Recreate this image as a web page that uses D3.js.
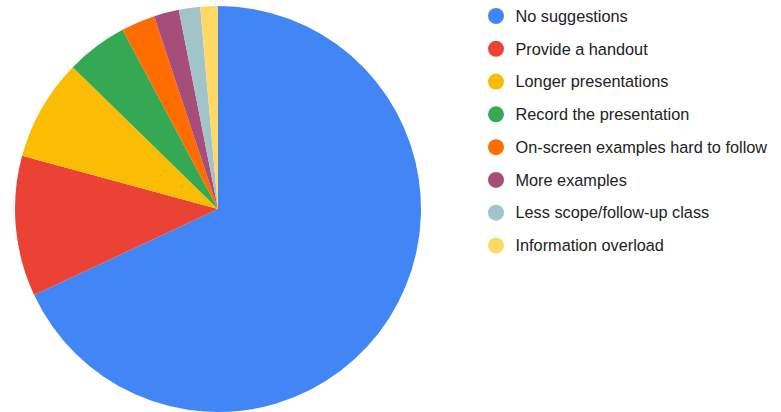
<!DOCTYPE html>
<html>
<head>
<meta charset="utf-8">
<script src="https://cdn.jsdelivr.net/npm/d3@7"></script>
<style>
  body { margin: 0; background: #fff; }
  svg { display: block; }
</style>
</head>
<body>
<svg id="chart" width="781" height="412"></svg>
<script>
const categories = [
  'No suggestions',
  'Provide a handout',
  'Longer presentations',
  'Record the presentation',
  'On-screen examples hard to follow',
  'More examples',
  'Less scope/follow-up class',
  'Information overload'
];
const values = [68.1, 11.2, 8.1, 4.9, 2.7, 2.0, 1.7, 1.4];
const colors = ['#4285f4', '#ea4335', '#fbbc04', '#34a853', '#ff6d01', '#a64d79', '#a2c4c9', '#ffd966'];

const svg = d3.select('#chart');
const cx = 218, cy = 209, radius = 203;

const pie = d3.pie().sort(null).value(d => d.value);
const data = categories.map((c, i) => ({ label: c, value: values[i] }));
const arc = d3.arc().innerRadius(0).outerRadius(radius);

const g = svg.append('g').attr('transform', `translate(${cx},${cy})`);
g.selectAll('path')
  .data(pie(data))
  .enter()
  .append('path')
  .attr('d', arc)
  .attr('fill', (d, i) => colors[i]);

// legend
const legendY = d3.scalePoint().domain(categories).range([16, 245.5]);
const legend = svg.append('g');
const items = legend.selectAll('g')
  .data(categories)
  .enter()
  .append('g')
  .attr('transform', d => `translate(496,${legendY(d)})`);

items.append('circle')
  .attr('r', 8)
  .attr('fill', (d, i) => colors[i]);

items.append('text')
  .attr('x', 19.5)
  .attr('dy', '0.35em')
  .attr('font-family', 'Liberation Sans, Arial, sans-serif')
  .attr('font-size', 16.3)
  .attr('fill', '#222')
  .text(d => d);
</script>
</body>
</html>
